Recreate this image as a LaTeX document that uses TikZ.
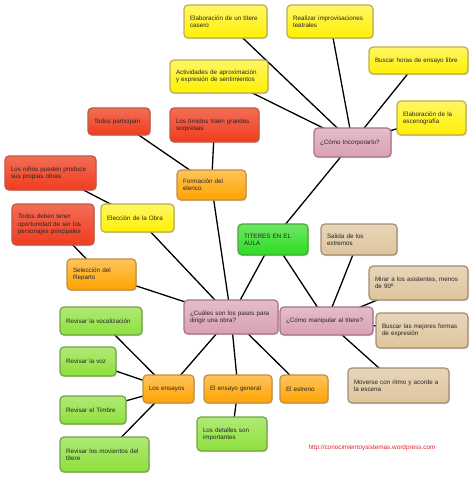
\documentclass[tikz,border=0pt]{standalone}
\usepackage{fontspec}
\setmainfont{Liberation Sans}
\usetikzlibrary{shadows,backgrounds}
\definecolor{cyel}{HTML}{FFF000}\definecolor{byel}{HTML}{BCAE50}
\definecolor{cred}{HTML}{F03C1E}\definecolor{bred}{HTML}{C25848}
\definecolor{cora}{HTML}{FFA300}\definecolor{bora}{HTML}{C09048}
\definecolor{cpin}{HTML}{D9A0B4}\definecolor{bpin}{HTML}{A87482}
\definecolor{cgre}{HTML}{2EDC22}\definecolor{bgre}{HTML}{48A83A}
\definecolor{clim}{HTML}{8EE03C}\definecolor{blim}{HTML}{72A448}
\definecolor{ctan}{HTML}{DEC49C}\definecolor{btan}{HTML}{A08E74}
\definecolor{curl}{HTML}{E0202A}
\begin{document}
\begin{tikzpicture}[x=1bp,y=-1bp,
  base/.style={rounded corners=4bp, line width=1.2bp, inner xsep=6bp, inner ysep=1bp,
    align=left, font=\fontsize{6.3}{7.2}\selectfont, text=black!85,
    drop shadow={shadow xshift=0.9bp, shadow yshift=-1.2bp, opacity=0.3}},
  yb/.style={base, draw=byel, top color=cyel!60!white, bottom color=cyel},
  rb/.style={base, draw=bred, top color=cred!75!white, bottom color=cred},
  ob/.style={base, draw=bora, top color=cora!65!white, bottom color=cora},
  pb/.style={base, draw=bpin, top color=cpin!70!white, bottom color=cpin},
  gb/.style={base, draw=bgre, top color=cgre!70!white, bottom color=cgre},
  lb/.style={base, draw=blim, top color=clim!70!white, bottom color=clim},
  tb/.style={base, draw=btan, top color=ctan!70!white, bottom color=ctan},
  edge/.style={draw=black, line width=1.3bp}
]
\useasboundingbox (0,0) rectangle (474,480);
\node[yb, text width=71bp, minimum height=33bp] (n1) at (225.5,21.5) {Elaboración de un títere\\casero};
\node[yb, text width=74bp, minimum height=33bp] (n2) at (330,21.5) {Realizar improvisaciones\\teatrales};
\node[yb, text width=87bp, minimum height=27bp] (n3) at (418.5,60.5) {Buscar horas de ensayo libre};
\node[yb, text width=86bp, minimum height=33bp] (n4) at (219,76.5) {Actividades de aproximación\\y expresión de sentimientos};
\node[yb, text width=57bp, minimum height=34bp] (n5) at (431.5,118) {Elaboración de la\\escenografía};
\node[pb, text width=65bp, minimum height=29bp] (n6) at (352.5,142.5) {¿Cómo Incorporarlo?};
\node[rb, text width=50bp, minimum height=27bp] (n7) at (119,121.5) {Todos participan};
\node[rb, text width=77bp, minimum height=34bp] (n8) at (214.5,125) {Los tímidos traen grandes\\sorpresas};
\node[rb, text width=79bp, minimum height=34bp] (n9) at (50.5,173) {Los niños pueden produce\\sus propias obras};
\node[ob, text width=57bp, minimum height=30bp] (n10) at (211.5,185) {Formación del\\elenco};
\node[rb, text width=70bp, minimum height=41bp] (n11) at (53,224.5) {Todos deben tener\\oportunidad de ser los\\personajes principales};
\node[yb, text width=61bp, minimum height=28bp] (n12) at (137.5,218) {Elección de la Obra};
\node[gb, text width=58bp, minimum height=31bp] (n13) at (273,239.5) {TITERES EN EL\\AULA};
\node[tb, text width=64bp, minimum height=31bp] (n14) at (359,239.5) {Salida de los\\extremos};
\node[tb, text width=87bp, minimum height=34bp] (n15) at (418.5,283) {Mirar a los asistentes, menos\\de 90º};
\node[ob, text width=57bp, minimum height=31bp] (n16) at (101.5,274.5) {Selección del\\Reparto};
\node[pb, text width=82bp, minimum height=34bp] (n17) at (231,317) {¿Cuáles son los pasos para\\dirigir una obra?};
\node[pb, text width=81bp, minimum height=28bp] (n18) at (326.5,321) {¿Cómo manipular al títere?};
\node[tb, text width=80bp, minimum height=35bp] (n19) at (422,330.5) {Buscar las mejores formas\\de expresión};
\node[tb, text width=89bp, minimum height=35bp] (n20) at (398.5,385.5) {Moverse con ritmo y acorde a\\la escena};
\node[ob, text width=36bp, minimum height=28bp] (n21) at (304,389) {El estreno};
\node[ob, text width=56bp, minimum height=28bp] (n22) at (238,389) {El ensayo general};
\node[ob, text width=39bp, minimum height=28bp] (n23) at (168.5,389) {Los ensayos};
\node[lb, text width=58bp, minimum height=34bp] (n24) at (232,434) {Los detalles son\\importantes};
\node[lb, text width=70bp, minimum height=28bp] (n25) at (101,321) {Revisar la vocalización};
\node[lb, text width=44bp, minimum height=29bp] (n26) at (88,361.5) {Revisar la voz};
\node[lb, text width=54bp, minimum height=28bp] (n27) at (93,410) {Revisar el Timbre};
\node[lb, text width=77bp, minimum height=35bp] (n28) at (104.5,454.5) {Revisar los movientos del\\títere};
\node[font=\fontsize{6.4}{7}\selectfont, text=curl, inner sep=0pt] (url) at (372,448) {http://conocimientoysistemas.wordpress.com};
\begin{pgfonlayer}{background}
\fill[white] (0,0) rectangle (474,480);
\foreach \a/\b in {n1/n6,n2/n6,n3/n6,n4/n6,n5/n6,n6/n13,n13/n17,n13/n18,n14/n18,n15/n18,n19/n18,n20/n18,n17/n21,n17/n22,n17/n23,n17/n16,n17/n12,n17/n10,n10/n7,n10/n8,n12/n9,n16/n11,n23/n25,n23/n26,n23/n27,n23/n28,n22/n24}
  \draw[edge] (\a.center) -- (\b.center);
\end{pgfonlayer}
\end{tikzpicture}
\end{document}
